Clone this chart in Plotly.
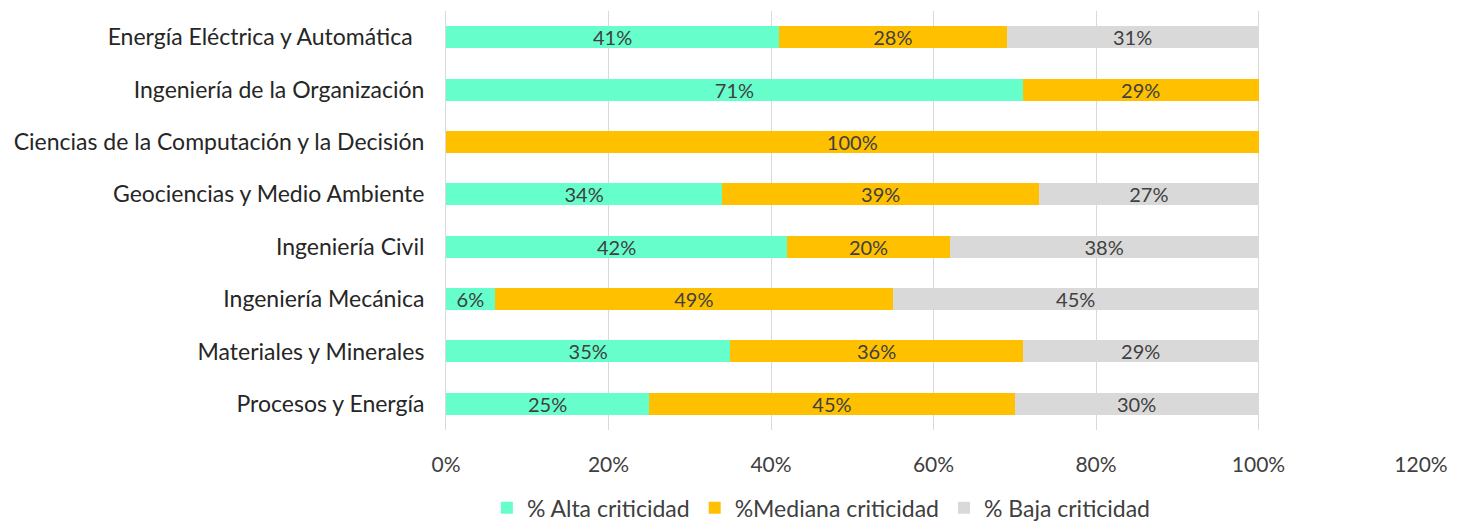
import plotly.graph_objects as go

categories = [
    "Energía Eléctrica y Automática",
    "Ingeniería de la Organización",
    "Ciencias de la Computación y la Decisión",
    "Geociencias y Medio Ambiente",
    "Ingeniería Civil",
    "Ingeniería Mecánica",
    "Materiales y Minerales",
    "Procesos y Energía",
]
alta = [41, 71, 0, 34, 42, 6, 35, 25]
mediana = [28, 29, 100, 39, 20, 49, 36, 45]
baja = [31, 0, 0, 27, 38, 45, 29, 30]

series_names = ["% Alta criticidad", "%Mediana criticidad", "% Baja criticidad"]
series_vals = [alta, mediana, baja]
colors = ["#66FFCC", "#FFC000", "#D9D9D9"]

font_family = "Lato, 'Open Sans', sans-serif"
text_color = "#404040"

labels = [c + ("  " if i == 0 else "") for i, c in enumerate(categories)]

fig = go.Figure()
for name, vals, col in zip(series_names, series_vals, colors):
    fig.add_trace(go.Bar(
        y=labels,
        x=[v / 100 for v in vals],
        name=name,
        orientation="h",
        marker=dict(color=col, line=dict(width=0)),
        text=[f"{v}%" if v > 0 else "" for v in vals],
        textposition="inside",
        insidetextanchor="middle",
        constraintext="none",
        textfont=dict(family=font_family, size=20, color=text_color),
        hoverinfo="skip",
    ))

fig.update_layout(
    barmode="stack",
    bargap=0.58,
    width=1470,
    height=523,
    margin=dict(l=438, r=57, t=3, b=100),
    plot_bgcolor="white",
    paper_bgcolor="white",
    font=dict(family=font_family, size=20, color=text_color),
    legend=dict(
        orientation="h",
        x=0.385,
        xanchor="center",
        y=-0.183,
        yanchor="middle",
        font=dict(size=23, color=text_color),
        itemwidth=30,
        traceorder="normal",
    ),
    uniformtext=dict(minsize=10, mode="show"),
)
fig.update_xaxes(
    range=[0, 1.2],
    tickvals=[0, 0.2, 0.4, 0.6, 0.8, 1.0, 1.2],
    ticktext=["0%", "20%", "40%", "60%", "80%", "100%", "120%"],
    showgrid=True,
    gridcolor="#D9D9D9",
    gridwidth=1,
    zeroline=False,
    showline=False,
    ticks="",
    tickfont=dict(size=21, color=text_color),
    ticklabelstandoff=20,
    automargin=False,
)
fig.update_yaxes(
    autorange="reversed",
    showgrid=False,
    showline=True,
    linecolor="#D9D9D9",
    ticks="",
    tickfont=dict(size=23, color="#262626"),
    ticklabelstandoff=16,
    automargin=False,
)

fig.write_html("out.html")
